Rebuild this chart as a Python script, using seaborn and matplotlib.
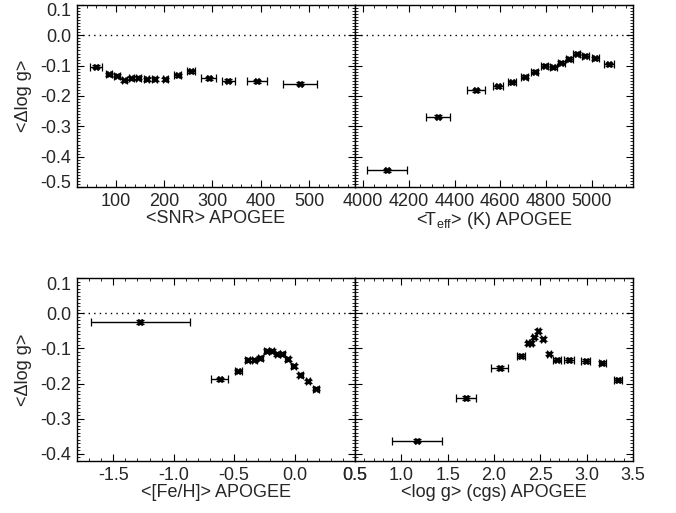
import numpy as np
import pandas as pd
import seaborn as sns
import matplotlib
matplotlib.use("Agg")
import matplotlib.pyplot as plt
import matplotlib.transforms as mtransforms
from matplotlib.ticker import MultipleLocator, AutoMinorLocator, FuncFormatter

# ---- data ----
snr_x = [59, 86, 102, 118, 132, 147, 164, 181, 203, 228, 256, 292, 333, 393, 481]
snr_xerr = [13, 7, 6, 5, 5, 5, 5, 5, 6, 7, 8, 15, 14, 21, 35]
snr_y = [-0.104, -0.129, -0.133, -0.148, -0.142, -0.140, -0.145, -0.144, -0.145,
         -0.132, -0.118, -0.142, -0.149, -0.152, -0.159]

teff_x = [4106, 4329, 4495, 4591, 4652, 4707, 4751, 4795, 4831, 4866, 4901, 4934, 4971, 5015, 5074]
teff_xerr = [87, 53, 39, 22, 17, 15, 15, 15, 15, 15, 15, 15, 15, 15, 22]
teff_y = [-0.445, -0.268, -0.181, -0.168, -0.155, -0.137, -0.120, -0.101, -0.106,
          -0.090, -0.078, -0.061, -0.068, -0.075, -0.096]

feh_x = [-1.278, -0.619, -0.464, -0.389, -0.333, -0.283, -0.231, -0.189, -0.144,
         -0.100, -0.056, -0.006, 0.047, 0.111, 0.181]
feh_xerr = [0.41, 0.07, 0.03, 0.02, 0.02, 0.02, 0.02, 0.02, 0.02, 0.02, 0.02, 0.02, 0.02, 0.02, 0.025]
feh_y = [-0.025, -0.188, -0.165, -0.133, -0.132, -0.127, -0.107, -0.108, -0.116,
         -0.116, -0.130, -0.150, -0.176, -0.194, -0.214]

logg_x = [1.17, 1.70, 2.06, 2.29, 2.37, 2.40, 2.43, 2.48, 2.53, 2.59, 2.68, 2.81, 2.99, 3.17, 3.34]
logg_xerr = [0.27, 0.11, 0.09, 0.04, 0.02, 0.02, 0.02, 0.02, 0.02, 0.02, 0.04, 0.05, 0.05, 0.04, 0.04]
logg_y = [-0.362, -0.241, -0.155, -0.121, -0.086, -0.084, -0.069, -0.050, -0.074,
          -0.115, -0.132, -0.133, -0.136, -0.141, -0.190]

yerr_val = 0.005

top_yticks = [0.1, 0.0, -0.1, -0.2, -0.3, -0.4, -0.5]
bot_yticks = [0.1, 0.0, -0.1, -0.2, -0.3, -0.4]
snr_ticks = [100, 200, 300, 400, 500]
teff_ticks = [4000, 4200, 4400, 4600, 4800, 5000]
feh_ticks = [-1.5, -1.0, -0.5, 0.0, 0.5]
logg_ticks = [0.5, 1.0, 1.5, 2.0, 2.5, 3.0, 3.5]

xlabels = ["<SNR> APOGEE", r"<T$_{\rm eff}$> (K) APOGEE", "<[Fe/H]> APOGEE", "<log g> (cgs) APOGEE"]
ylabel = "<\u0394log g>"

sns.set_style("ticks")
plt.rcParams['font.family'] = ['Liberation Sans', 'DejaVu Sans']
plt.rcParams['mathtext.fontset'] = 'custom'
plt.rcParams['mathtext.rm'] = 'Liberation Sans'
plt.rcParams['font.size'] = 13

fig = plt.figure(figsize=(6.76, 5.13), dpi=100)
W, H = 676, 513
def axes_px(x0, y0, x1, y1):
    return fig.add_axes([x0 / W, 1 - y1 / H, (x1 - x0) / W, (y1 - y0) / H])

ax1 = axes_px(77, 5, 355, 187)
ax2 = axes_px(355, 5, 633, 187)
ax3 = axes_px(77, 278, 355, 461)
ax4 = axes_px(355, 278, 633, 461)

panels = [
    (ax1, snr_x, snr_xerr, snr_y, (20, 595), (-0.5, 0.1), snr_ticks, top_yticks, 5),
    (ax2, teff_x, teff_xerr, teff_y, (3965, 5180), (-0.5, 0.1), teff_ticks, top_yticks, 4),
    (ax3, feh_x, feh_xerr, feh_y, (-1.8, 0.5), (-0.42, 0.1), feh_ticks, bot_yticks, 5),
    (ax4, logg_x, logg_xerr, logg_y, (0.5, 3.5), (-0.42, 0.1), logg_ticks, bot_yticks, 5),
]

fmt = FuncFormatter(lambda v, p: f"{v:.1f}".replace("-0.0", "0.0"))

for i, (ax, x, xe, y, xl, yl, xt, yt, xmin_n) in enumerate(panels):
    df = pd.DataFrame({"x": x, "y": y, "xe": xe})
    ax.errorbar(df["x"], df["y"], xerr=df["xe"], yerr=yerr_val, fmt='none',
                ecolor='black', elinewidth=1.0, capsize=3, capthick=0.9, zorder=2)
    sns.scatterplot(data=df, x="x", y="y", ax=ax, marker='X', s=24, color='black',
                    edgecolor='black', linewidth=0.3, zorder=3, legend=False)
    ax.axhline(0.0, color='black', linestyle=(0, (1, 3)), linewidth=1.0, zorder=1)
    ax.set_xlim(*xl)
    ax.set_ylim(*yl)
    ax.set_xticks(xt)
    ax.set_yticks(yt)
    ax.xaxis.set_minor_locator(AutoMinorLocator(xmin_n))
    ax.yaxis.set_minor_locator(AutoMinorLocator(10))
    ax.tick_params(which='both', direction='in', top=True, right=True, color='black', pad=4)
    ax.tick_params(which='major', length=5, width=0.8)
    ax.tick_params(which='minor', length=2.5, width=0.6)
    for sp in ax.spines.values():
        sp.set_linewidth(1.0)
        sp.set_color('black')
    ax.set_xlabel(xlabels[i], labelpad=0)
    if i >= 2:
        ax.xaxis.set_major_formatter(fmt)
    if i in (0, 2):
        ax.set_ylabel(ylabel, labelpad=6)
        ax.yaxis.set_major_formatter(fmt)
        # end labels sit slightly inside the frame, as in the reference
        ticks = ax.yaxis.get_major_ticks()
        down = mtransforms.ScaledTranslation(0, -5 / 100, fig.dpi_scale_trans)
        up = mtransforms.ScaledTranslation(0, 5 / 100, fig.dpi_scale_trans)
        ticks[0].label1.set_transform(ticks[0].label1.get_transform() + down)
        if i == 0:
            ticks[-1].label1.set_transform(ticks[-1].label1.get_transform() + up)
    else:
        ax.set_ylabel("")
        ax.set_yticklabels([])

fig.savefig("out.png", dpi=100)
